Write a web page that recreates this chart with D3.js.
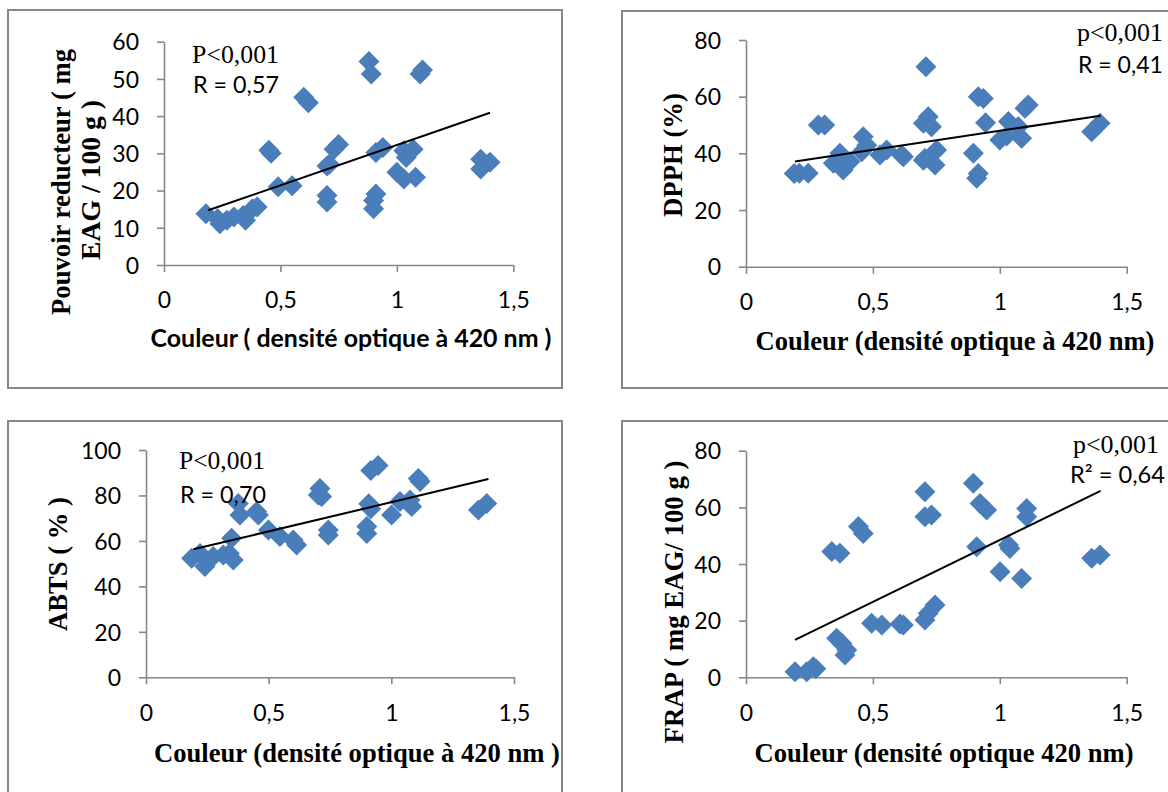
<!DOCTYPE html>
<html>
<head>
<meta charset="utf-8">
<script src="https://cdn.jsdelivr.net/npm/d3@7"></script>
<style>
  body { margin: 0; background: #fff; }
  svg { display: block; }
</style>
</head>
<body>
<svg id="chart" width="1168" height="792"></svg>
<script>
// ---- shared axis ticks (French decimal comma) ----
const xTickValues = [0, 0.5, 1, 1.5];
const xTickLabels = ["0", "0,5", "1", "1,5"];
const yTicks60 = [0, 10, 20, 30, 40, 50, 60];
const yTicks80 = [0, 20, 40, 60, 80];
const yTicks100 = [0, 20, 40, 60, 80, 100];

// ---- Pouvoir réducteur vs couleur ----
const reducteurX = [0.18, 0.23, 0.24, 0.27, 0.30, 0.34, 0.35, 0.38, 0.40, 0.45, 0.46, 0.49, 0.55, 0.60, 0.62,
  0.70, 0.71, 0.70, 0.70, 0.73, 0.75, 0.88, 0.89, 0.91, 0.94, 0.91, 0.90, 0.90,
  1.00, 1.03, 1.03, 1.04, 1.07, 1.08, 1.10, 1.11, 1.36, 1.36, 1.40];
const reducteurY = [13.8, 12.4, 11.1, 12.0, 12.9, 13.3, 12.0, 15.1, 15.6, 30.8, 30.0, 21.0, 21.3, 45.1, 43.6,
  26.6, 27.1, 18.7, 16.9, 31.1, 32.4, 54.7, 51.3, 30.2, 31.6, 19.1, 17.3, 15.1,
  24.9, 23.1, 30.7, 28.9, 31.1, 23.6, 51.3, 52.4, 28.4, 25.8, 27.6];
const reducteurTrend = [[0.19, 14.7], [1.40, 40.9]];

// ---- DPPH vs couleur ----
const dpphX = [0.19, 0.21, 0.245, 0.285, 0.31, 0.344, 0.37, 0.383, 0.38, 0.41, 0.456, 0.462, 0.476, 0.528, 0.554,
  0.613, 0.62, 0.699, 0.709, 0.718, 0.699, 0.731, 0.705, 0.751, 0.745, 0.896, 0.915, 0.935, 0.915, 0.909,
  0.944, 1.00, 1.027, 1.034, 1.073, 1.086, 1.099, 1.112, 1.362, 1.395];
const dpphY = [32.9, 33.0, 33.0, 50.0, 50.0, 36.5, 40.0, 34.1, 38.2, 37.1, 40.6, 45.9, 42.9, 39.4, 41.2,
  39.4, 38.8, 37.6, 70.6, 52.9, 50.6, 49.4, 38.2, 41.2, 35.9, 40.0, 60.0, 59.4, 32.9, 31.2,
  50.8, 44.7, 46.1, 51.2, 49.4, 45.3, 55.9, 57.1, 47.6, 50.6];
const dpphTrend = [[0.193, 37.1], [1.397, 53.3]];

// ---- ABTS vs couleur ----
const abtsX = [0.186, 0.22, 0.24, 0.274, 0.315, 0.34, 0.349, 0.356, 0.376, 0.383, 0.451, 0.458, 0.499, 0.546, 0.60,
  0.614, 0.702, 0.709, 0.716, 0.743, 0.743, 0.90, 0.90, 0.908, 0.916, 0.916, 0.946, 1.001, 1.035, 1.076,
  1.083, 1.11, 1.117, 1.355, 1.389];
const abtsY = [52.4, 54.5, 48.7, 53.1, 53.8, 54.5, 61.2, 51.6, 76.5, 71.4, 72.9, 71.4, 64.8, 61.9, 60.4,
  58.2, 80.2, 83.1, 79.5, 64.8, 62.6, 66.3, 63.3, 76.3, 74.1, 91.0, 93.2, 71.4, 77.3, 78.0,
  75.1, 87.5, 86.1, 73.6, 76.5];
const abtsTrend = [[0.193, 56.3], [1.396, 87.2]];

// ---- FRAP vs couleur ----
const frapX = [0.193, 0.239, 0.265, 0.275, 0.338, 0.357, 0.370, 0.377, 0.390, 0.397, 0.443, 0.462, 0.495, 0.535,
  0.607, 0.620, 0.705, 0.705, 0.731, 0.705, 0.718, 0.745, 0.896, 0.909, 0.922, 0.948, 1.001, 1.034, 1.040,
  1.086, 1.106, 1.106, 1.362, 1.395];
const frapY = [2.0, 2.0, 3.7, 3.0, 44.4, 13.8, 43.8, 12.0, 7.9, 9.6, 53.2, 50.8, 19.1, 18.5,
  18.8, 18.5, 65.5, 56.7, 57.3, 20.2, 22.6, 25.5, 68.5, 46.1, 61.4, 59.1, 37.3, 46.7, 45.5,
  34.9, 59.6, 56.7, 42.0, 43.2];
const frapTrend = [[0.193, 13.2], [1.397, 65.8]];

// ---- panel layout ----
const SERIF = "'Liberation Serif', 'Times New Roman', serif";
const SANS = "Lato, 'Open Sans', sans-serif";
const POINT = "#4a7ebb";
const GREY = "#878787";

const panels = [
  {
    xs: reducteurX, ys: reducteurY, trend: reducteurTrend, yTicks: yTicks60, yMax: 60,
    frame: [8, 10, 554, 378], xr: [164, 513.3], yr: [265, 41.7],
    xTitle: { text: "Couleur ( densité optique à 420 nm )", font: SANS, cx: 351, y: 347, w: 401 },
    yTitle: [
      { text: "Pouvoir reducteur ( mg", cx: 61, cy: 182, w: 266 },
      { text: "EAG / 100 g )", cx: 90, cy: 180, w: 160 }
    ],
    notes: [
      { text: "P<0,001", font: SERIF, x: 192, y: 63, w: 87 },
      { text: "R = 0,57", font: SANS, x: 193, y: 93, w: 86 }
    ]
  },
  {
    xs: dpphX, ys: dpphY, trend: dpphTrend, yTicks: yTicks80, yMax: 80,
    frame: [622, 11, 600, 377], xr: [746, 1126.7], yr: [266.7, 40],
    xTitle: { text: "Couleur (densité optique à 420 nm)", font: SERIF, cx: 955, y: 350, w: 399 },
    yTitle: [{ text: "DPPH (%)", cx: 673, cy: 155, w: 124 }],
    notes: [
      { text: "p<0,001", font: SERIF, x: 1077, y: 41, w: 86 },
      { text: "R = 0,41", font: SANS, x: 1078, y: 73, w: 85 }
    ]
  },
  {
    xs: abtsX, ys: abtsY, trend: abtsTrend, yTicks: yTicks100, yMax: 100,
    frame: [8, 421, 554, 420], xr: [146, 514], yr: [677.3, 450],
    xTitle: { text: "Couleur (densité optique à 420 nm )", font: SERIF, cx: 357, y: 762, w: 406 },
    yTitle: [{ text: "ABTS ( % )", cx: 58, cy: 564, w: 134 }],
    notes: [
      { text: "P<0,001", font: SERIF, x: 179, y: 469, w: 86 },
      { text: "R = 0,70", font: SANS, x: 180, y: 503, w: 86 }
    ]
  },
  {
    xs: frapX, ys: frapY, trend: frapTrend, yTicks: yTicks80, yMax: 80,
    frame: [622, 421, 600, 420], xr: [746, 1126.7], yr: [677.3, 450.7],
    xTitle: { text: "Couleur (densité optique 420 nm)", font: SERIF, cx: 944, y: 762, w: 379 },
    yTitle: [{ text: "FRAP ( mg EAG/ 100 g )", cx: 674, cy: 602, w: 283 }],
    notes: [
      { text: "p<0,001", font: SERIF, x: 1073, y: 453, w: 86 },
      { text: "R² = 0,64", font: SANS, x: 1070, y: 483, w: 95 }
    ]
  }
];

const svg = d3.select("#chart");

// scale a text's font size so its rendered width equals w
function fitWidth(sel, w) {
  const len = sel.node().getComputedTextLength();
  const fs = parseFloat(sel.attr("font-size"));
  if (len > 0) sel.attr("font-size", (fs * w / len).toFixed(2));
}

panels.forEach(p => {
  const g = svg.append("g");

  // outer frame
  g.append("rect")
    .attr("x", p.frame[0]).attr("y", p.frame[1])
    .attr("width", p.frame[2]).attr("height", p.frame[3])
    .attr("fill", "none").attr("stroke", GREY).attr("stroke-width", 2);

  const x = d3.scaleLinear().domain([0, 1.5]).range(p.xr);
  const y = d3.scaleLinear().domain([0, p.yMax]).range(p.yr);

  // axes
  const xAxis = d3.axisBottom(x).tickValues(xTickValues)
    .tickFormat((d, i) => xTickLabels[i]).tickSize(7).tickSizeOuter(0);
  const yAxis = d3.axisLeft(y).tickValues(p.yTicks)
    .tickFormat(d => String(d)).tickSize(7).tickSizeOuter(0);

  const gx = g.append("g").attr("transform", `translate(0,${p.yr[0]})`).call(xAxis);
  const gy = g.append("g").attr("transform", `translate(${p.xr[0]},0)`).call(yAxis);

  [gx, gy].forEach(a => {
    a.select(".domain").attr("stroke", GREY).attr("stroke-width", 1.6);
    a.selectAll(".tick line").attr("stroke", GREY).attr("stroke-width", 1.6);
    a.selectAll(".tick text").attr("fill", "#000")
      .attr("font-family", SANS).attr("font-size", 23);
  });
  gx.selectAll(".tick text").attr("y", 35).attr("dy", "0.36em");
  gy.selectAll(".tick text").attr("x", -25).attr("dy", "0.36em");

  // data points (diamonds)
  const pts = p.xs.map((v, i) => [v, p.ys[i]]);
  g.append("g").selectAll("path").data(pts).join("path")
    .attr("transform", d => `translate(${x(d[0])},${y(d[1])})`)
    .attr("d", "M0,-10.5L10.5,0L0,10.5L-10.5,0Z")
    .attr("fill", POINT);

  // linear trend line
  g.append("line")
    .attr("x1", x(p.trend[0][0])).attr("y1", y(p.trend[0][1]))
    .attr("x2", x(p.trend[1][0])).attr("y2", y(p.trend[1][1]))
    .attr("stroke", "#000").attr("stroke-width", 2);

  // x-axis title
  const xt = g.append("text")
    .attr("x", p.xTitle.cx).attr("y", p.xTitle.y)
    .attr("text-anchor", "middle")
    .attr("font-family", p.xTitle.font).attr("font-weight", "bold")
    .attr("font-size", 24).attr("fill", "#000")
    .text(p.xTitle.text);
  fitWidth(xt, p.xTitle.w);

  // y-axis title (rotated)
  p.yTitle.forEach(t => {
    const yt = g.append("text")
      .attr("transform", `translate(${t.cx},${t.cy}) rotate(-90)`)
      .attr("text-anchor", "middle").attr("dy", "0.35em")
      .attr("font-family", SERIF).attr("font-weight", "bold")
      .attr("font-size", 26).attr("fill", "#000")
      .text(t.text);
    fitWidth(yt, t.w);
  });

  // statistics annotations
  p.notes.forEach(n => {
    const nt = g.append("text")
      .attr("x", n.x).attr("y", n.y)
      .attr("font-family", n.font).attr("font-size", 24).attr("fill", "#000")
      .text(n.text);
    fitWidth(nt, n.w);
  });
});
</script>
</body>
</html>
